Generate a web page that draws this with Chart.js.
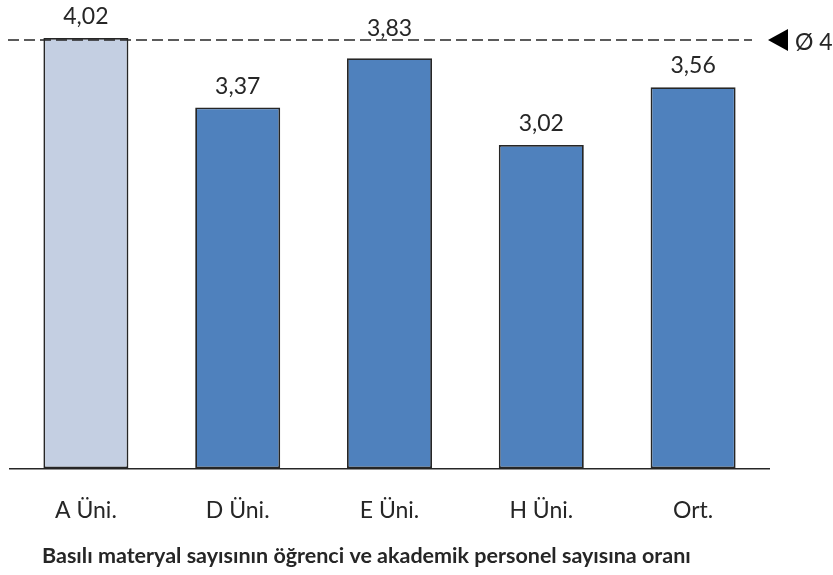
<!DOCTYPE html>
<html>
<head>
<meta charset="utf-8">
<script src="https://cdn.jsdelivr.net/npm/chart.js@4"></script>
<style>
  html, body { margin: 0; padding: 0; background: #ffffff; }
  #wrap { width: 833px; height: 575px; }
</style>
</head>
<body>
<div id="wrap"><canvas id="c" width="833" height="575"></canvas></div>
<script>
// Printed-material ratio per university, with the overall average marker
const categories = ['A Üni.', 'D Üni.', 'E Üni.', 'H Üni.', 'Ort.'];
const ratios = [4.02, 3.37, 3.83, 3.02, 3.56];
const highlighted = 'A Üni.';
const referenceValue = 4;
const referenceLabel = 'Ø 4';
const chartTitle = 'Basılı materyal sayısının öğrenci ve akademik personel sayısına oranı';

const INK = '#262626';
const BLUE = '#4F81BD';
const LIGHT = '#C4CFE2';
const FONT = 'Lato, "Open Sans", sans-serif';

const fmt = v => v.toFixed(2).replace('.', ',');

// dashed reference line with a pointer and its label on the right
const referenceLine = {
  id: 'referenceLine',
  afterDatasetsDraw(chart) {
    const { ctx, chartArea, scales } = chart;
    const y = scales.y.getPixelForValue(referenceValue);
    ctx.save();
    ctx.strokeStyle = INK;
    ctx.lineWidth = 1.5;
    ctx.setLineDash([11, 5]);
    ctx.beginPath();
    ctx.moveTo(chartArea.left - 2, y);
    ctx.lineTo(chartArea.right - 17, y);
    ctx.stroke();
    ctx.setLineDash([]);
    const tx = chartArea.right - 1;
    ctx.fillStyle = '#000000';
    ctx.beginPath();
    ctx.moveTo(tx, y);
    ctx.lineTo(tx + 20, y - 11);
    ctx.lineTo(tx + 20, y + 11);
    ctx.closePath();
    ctx.fill();
    ctx.fillStyle = INK;
    ctx.font = '23px ' + FONT;
    ctx.textAlign = 'left';
    ctx.textBaseline = 'middle';
    ctx.fillText(referenceLabel, tx + 27, y + 2);
    ctx.restore();
  }
};

// value above each bar; lifted over the reference line when they would collide
const barValues = {
  id: 'barValues',
  afterDatasetsDraw(chart) {
    const { ctx, scales } = chart;
    const meta = chart.getDatasetMeta(0);
    const lineY = scales.y.getPixelForValue(referenceValue);
    ctx.save();
    ctx.fillStyle = INK;
    ctx.font = '23px ' + FONT;
    ctx.textAlign = 'center';
    ctx.textBaseline = 'alphabetic';
    meta.data.forEach((bar, i) => {
      let base = bar.y - 14;
      const top = base - 17;
      if (base > lineY - 3 && top < lineY + 3 && bar.y > lineY) {
        base = lineY - 4;
      }
      ctx.fillText(fmt(ratios[i]), bar.x, base);
    });
    ctx.restore();
  }
};

// caption under the axis labels
const caption = {
  id: 'caption',
  afterDraw(chart) {
    const { ctx } = chart;
    ctx.save();
    ctx.fillStyle = INK;
    ctx.font = 'bold 21.5px ' + FONT;
    ctx.textAlign = 'left';
    ctx.textBaseline = 'alphabetic';
    ctx.fillText(chartTitle, 42, 563);
    ctx.restore();
  }
};

new Chart(document.getElementById('c'), {
  type: 'bar',
  data: {
    labels: categories,
    datasets: [{
      data: ratios,
      backgroundColor: categories.map(c => c === highlighted ? LIGHT : BLUE),
      borderColor: INK,
      borderWidth: 1.8,
      borderSkipped: false,
      categoryPercentage: 1,
      barPercentage: 0.56
    }]
  },
  options: {
    responsive: false,
    animation: false,
    layout: { padding: { left: 10, right: 64, top: 8, bottom: 23 } },
    plugins: {
      legend: { display: false },
      tooltip: { enabled: false },
      title: { display: false }
    },
    scales: {
      y: {
        display: false,
        min: 0,
        max: 4.3
      },
      x: {
        grid: { display: false, drawTicks: false },
        border: { display: true, color: INK, width: 1.5 },
        ticks: {
          color: INK,
          padding: 28,
          font: { family: FONT, size: 23 }
        }
      }
    }
  },
  plugins: [referenceLine, barValues, caption]
});
</script>
</body>
</html>
